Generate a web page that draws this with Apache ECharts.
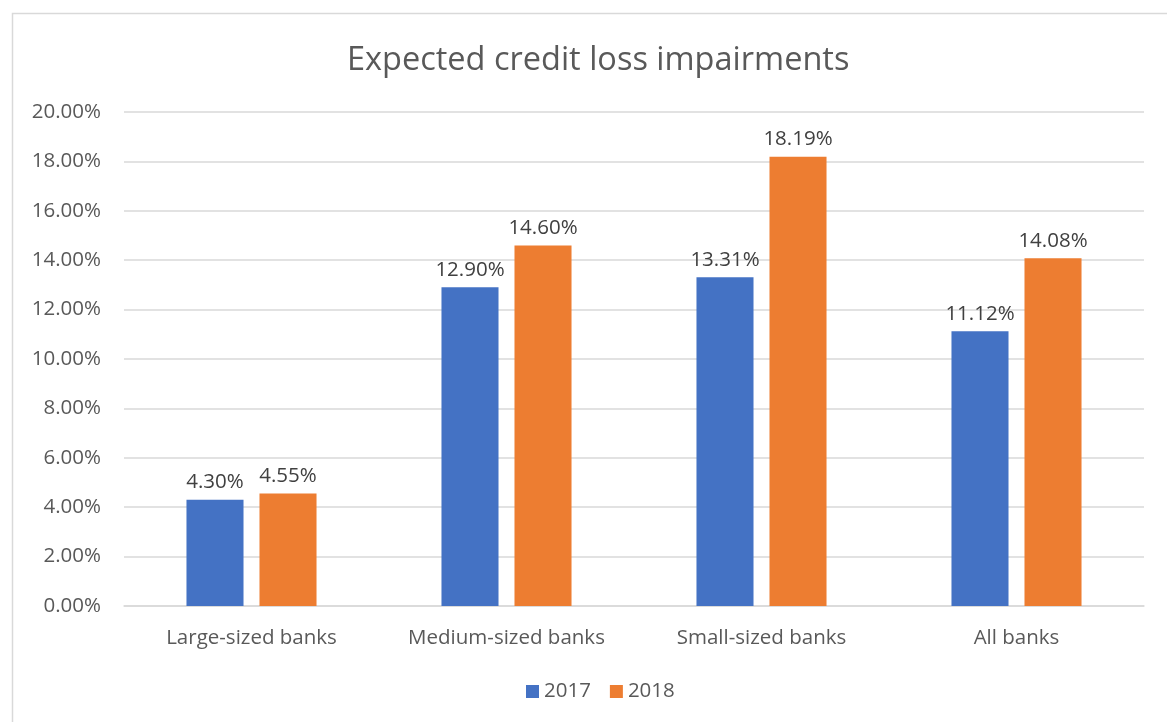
<!DOCTYPE html>
<html><head><meta charset="utf-8">
<script src="https://cdn.jsdelivr.net/npm/echarts@6/dist/echarts.min.js"></script>
<style>html,body{margin:0;padding:0;background:#fff}#c{width:1167px;height:722px}</style>
</head><body><div id="c"></div>
<script>
const categories = ['Large-sized banks', 'Medium-sized banks', 'Small-sized banks', 'All banks'];
const seriesNames = ['2017', '2018'];
const values2017 = [4.30, 12.90, 13.31, 11.12];
const values2018 = [4.55, 14.60, 18.19, 14.08];
const colors = ['#4472C4', '#ED7D31'];
const FONT = 'Open Sans';
const FS = 20.5;
const chart = echarts.init(document.getElementById('c'), null, {renderer: 'canvas'});
const lbl = {show: true, position: 'top', distance: 7, color: '#404040', fontFamily: FONT, fontSize: FS,
  formatter: p => p.value.toFixed(2) + '%'};
chart.setOption({
  animation: false,
  backgroundColor: '#fff',
  graphic: [{type: 'rect', shape: {x: 12.5, y: 13.5, width: 1300, height: 900},
    style: {fill: 'none', stroke: '#d9d9d9', lineWidth: 1.5}, silent: true, z: -1}],
  title: {text: 'Expected credit loss impairments', left: 342, top: 39,
    textStyle: {fontFamily: FONT, fontSize: 32.5, fontWeight: 'normal', color: '#595959'}},
  legend: {bottom: 15, left: 521, itemWidth: 13, itemHeight: 13, itemGap: 19, icon: 'rect',
    textStyle: {fontFamily: FONT, fontSize: FS, color: '#595959'}, data: seriesNames},
  grid: {left: 124, right: 23, top: 112, bottom: 116, containLabel: false},
  xAxis: {type: 'category', data: categories,
    axisLine: {lineStyle: {color: '#d9d9d9', width: 1.5}}, axisTick: {show: false},
    axisLabel: {fontFamily: FONT, fontSize: FS, color: '#595959', margin: 22, interval: 0}},
  yAxis: {type: 'value', min: 0, max: 20, interval: 2,
    axisLine: {show: false}, axisTick: {show: false},
    splitLine: {lineStyle: {color: '#d9d9d9', width: 1.5}},
    axisLabel: {fontFamily: FONT, fontSize: FS, color: '#595959', margin: 23,
      formatter: v => v.toFixed(2) + '%'}},
  series: [
    {name: seriesNames[0], type: 'bar', data: values2017, itemStyle: {color: colors[0]},
     barGap: '28%', barCategoryGap: '49%', label: lbl},
    {name: seriesNames[1], type: 'bar', data: values2018, itemStyle: {color: colors[1]},
     barGap: '28%', barCategoryGap: '49%', label: lbl}
  ]
});
</script></body></html>
